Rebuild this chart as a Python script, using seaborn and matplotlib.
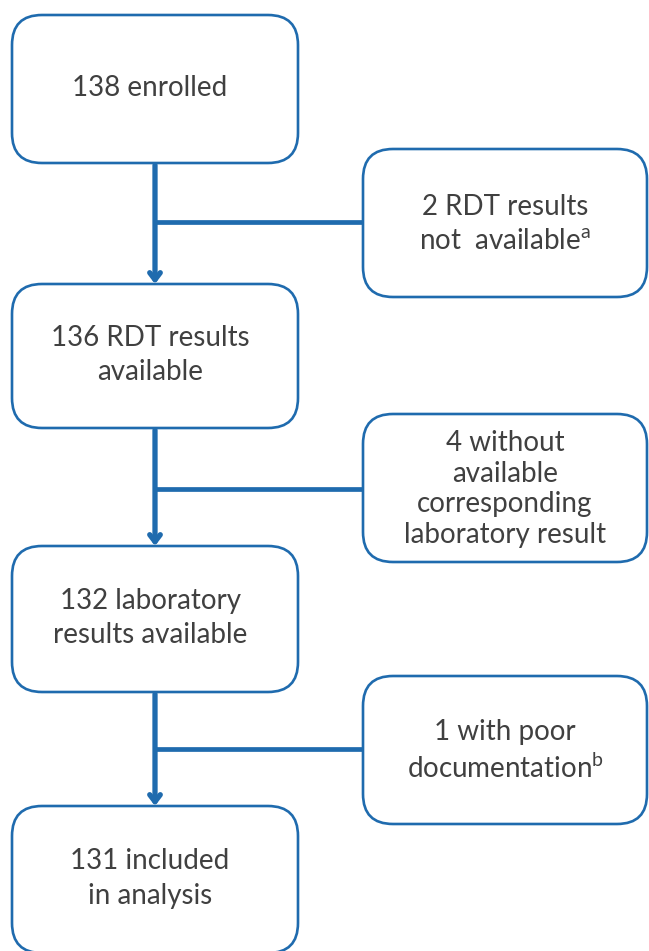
import matplotlib
matplotlib.use("Agg")
import matplotlib.pyplot as plt
import seaborn as sns
from matplotlib.patches import FancyBboxPatch

sns.set_style('white')
plt.rcParams['font.family'] = ['Lato', 'DejaVu Sans']
plt.rcParams['mathtext.default'] = 'regular'

# flow counts and labels
main_counts = [138, 136, 132, 131]
main_labels = ['138 enrolled',
               '136 RDT results\navailable',
               '132 laboratory\nresults available',
               '131 included\nin analysis']
excluded_counts = [2, 4, 1]
excluded_labels = ['2 RDT results\nnot  available$^{a}$',
                   '4 without\navailable\ncorresponding\nlaboratory result',
                   '1 with poor\ndocumentation$^{b}$']

# layout (pixel units, y downwards)
main_x = (12, 298)
main_y = [(15, 163), (284, 428), (546, 692), (806, 953)]
side_x = (363, 647)
side_y = [(149, 297), (414, 562), (676, 824)]
side_spacing = [1.35, 1.23, 1.38]
branch_y = [222, 489, 749]
arrow_x = 155

blue = '#1F6BAE'
grey = '#404040'

fig = plt.figure(figsize=(6.49, 9.51), dpi=100)
ax = fig.add_axes([0, 0, 1, 1])
ax.set_xlim(0, 649)
ax.set_ylim(951, 0)
ax.axis('off')


def box(x0, x1, y0, y1, text, linespacing, dx=0, dy=0):
    ax.add_patch(FancyBboxPatch((x0, y0), x1 - x0, y1 - y0,
                                boxstyle='round,pad=0,rounding_size=30',
                                fc='white', ec=blue, lw=1.9))
    ax.text((x0 + x1) / 2 + dx, (y0 + y1) / 2 + dy, text, ha='center', va='center',
            fontsize=20, color=grey, linespacing=linespacing)


for (y0, y1), txt in zip(main_y, main_labels):
    box(main_x[0], main_x[1], y0, y1, txt, 1.42, dx=-5, dy=-1)
for (y0, y1), txt, ls in zip(side_y, excluded_labels, side_spacing):
    box(side_x[0], side_x[1], y0, y1, txt, ls, dy=1)

for i in range(len(excluded_counts)):
    top = main_y[i][1]
    bottom = main_y[i + 1][0]
    ax.annotate('', xy=(arrow_x, bottom), xytext=(arrow_x, top + 2),
                arrowprops=dict(arrowstyle='->,head_width=0.38,head_length=0.5',
                                color=blue, lw=3.8, shrinkA=0, shrinkB=0))
    sns.lineplot(x=[arrow_x, side_x[0]], y=[branch_y[i], branch_y[i]],
                 ax=ax, color=blue, lw=3.4, solid_capstyle='butt')

fig.savefig('out.png', dpi=100)
